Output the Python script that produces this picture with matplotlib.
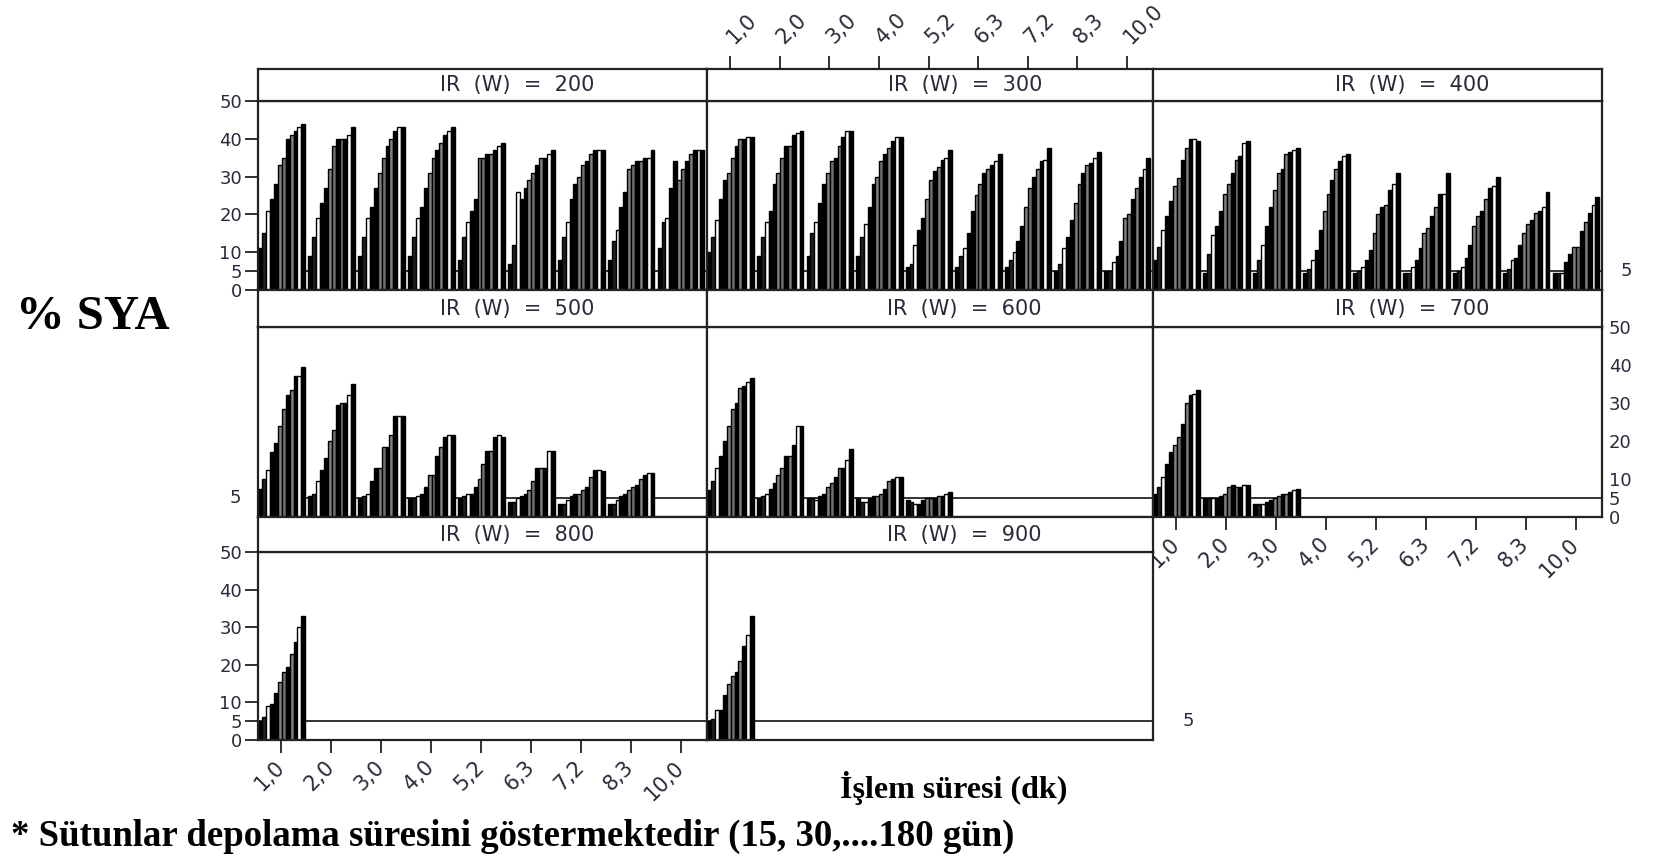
import numpy as np
import matplotlib.pyplot as plt

# treatment times (groups) and % SYA values, 12 storage times per group (15..180 days)
times = ["1,0", "2,0", "3,0", "4,0", "5,2", "6,3", "7,2", "8,3", "10,0"]

ir200 = [[11, 15, 21, 24, 28, 33, 35, 40, 41, 42, 43, 44],
         [9, 14, 19, 23, 27, 32, 38, 40, 40, 40, 41, 43],
         [9, 14, 19, 22, 27, 31, 35, 38, 40, 42, 43, 43],
         [9, 14, 19, 22, 27, 31, 35, 37, 39, 41, 42, 43],
         [8, 14, 18, 21, 24, 35, 35, 36, 36, 37, 38, 39],
         [7, 12, 26, 24, 27, 29, 31, 33, 35, 35, 36, 37],
         [8, 14, 18, 24, 28, 30, 33, 34, 36, 37, 37, 37],
         [8, 13, 16, 22, 26, 32, 33, 34, 34, 35, 35, 37],
         [11, 18, 19, 27, 34, 29, 32, 34, 36, 37, 37, 37]]
ir300 = [[10, 14, 18.5, 24, 29, 31, 35, 38, 40, 40, 40.5, 40.5],
         [9, 14, 18, 21, 28, 31, 35, 38, 38, 41, 41.5, 42],
         [9, 15, 18, 23, 28, 31, 34, 35, 38, 40.5, 42, 42],
         [9, 14, 17.5, 22, 28, 30, 34, 36, 37.5, 39.5, 40.5, 40.5],
         [6, 7, 12, 16, 19, 24, 29, 31.5, 32.5, 34.5, 35, 37],
         [6, 9, 11, 15, 21, 25, 28, 31, 32, 33, 34, 36],
         [6, 8, 10, 13, 17, 22, 27, 30, 32, 34, 34.5, 37.5],
         [5, 7, 11, 14, 18.5, 23, 28, 31, 33, 33.5, 35, 36.5],
         [5, 5, 7.5, 9, 13, 19, 20, 24, 27, 30, 32, 35]]
ir400 = [[8, 11.5, 16, 19.5, 23.5, 27.5, 29.5, 34.5, 37.5, 40, 40, 39.5],
         [4.5, 9.5, 14.5, 17, 21, 25.5, 28, 31, 34.5, 35.5, 39, 39.5],
         [4.5, 8, 12, 17, 22, 26.5, 31, 32, 36, 36.5, 37, 37.5],
         [4.5, 5.5, 8, 10.5, 16, 21, 25.5, 29, 32, 34, 35.5, 36],
         [4.5, 5, 6, 8, 10.5, 15, 20, 22, 22.5, 26.5, 28, 31],
         [4.5, 4.5, 6, 8, 11, 15, 16.5, 19.5, 22, 25.5, 25.5, 31],
         [4.5, 5, 6, 8.5, 12, 17, 19.5, 21, 24, 27, 27.5, 30],
         [4.5, 5.5, 8, 8.5, 12, 15, 17.5, 18.5, 20.5, 21, 22, 26],
         [4.5, 4.5, 4.5, 7.5, 9.5, 11.5, 11.5, 15.5, 18, 20.5, 22.5, 24.5]]
ir500 = [[7.5, 10, 12.5, 17, 19.5, 24, 28.5, 32, 33.5, 37, 37, 39.5],
         [5.5, 6, 9.5, 12.5, 15.5, 20, 23, 29.5, 30, 30, 32, 35],
         [5, 5.5, 6, 9.5, 13, 13, 18.5, 18.5, 21.5, 26.5, 26.5, 26.5],
         [5, 5, 5.5, 6, 8, 11, 11, 16, 18.5, 21, 21.5, 21.5],
         [5, 5.5, 6, 6, 8, 10, 14, 17.5, 17.5, 21, 21.5, 21],
         [4, 4, 5, 5.5, 6, 7, 9.5, 13, 13, 13, 17.5, 17.5],
         [3.5, 3.5, 4.5, 5.5, 6, 6, 7, 8, 10.5, 12.5, 12.5, 12],
         [3.5, 3.5, 4.5, 5.5, 6, 7, 8, 8.5, 10, 11, 11.5, 11.5]]
ir600 = [[7, 9.5, 13, 16, 20, 24, 28.5, 30, 34, 34.5, 35.5, 36.5],
         [5, 5.5, 6, 7.5, 9, 11, 13, 16, 16, 19, 24, 24],
         [5, 5, 4.5, 5.5, 6, 8, 9, 10.5, 13, 13, 15, 18],
         [5, 4, 4, 5, 5.5, 5.5, 6, 7.5, 9.5, 10, 10.5, 10.5],
         [4.5, 4, 3.5, 3.5, 4.5, 5, 5, 5, 5.5, 5.5, 6, 6.5]]
ir700 = [[6, 8, 10.5, 14, 17, 19, 21, 24.5, 30, 32, 32.5, 33.5],
         [5, 5, 5, 5, 5.5, 6, 8, 8.5, 8, 8, 8.5, 8.5],
         [3.5, 3.5, 3.5, 4, 4.5, 5, 5.5, 6, 6, 6.5, 7, 7.5]]
ir800 = [[5, 6, 9, 9.5, 12.5, 15.5, 18, 19.5, 23, 26, 30, 33]]
ir900 = [[5, 5.5, 8, 8, 12, 15, 17, 18, 21, 25, 28, 33]]

powers = [200, 300, 400, 500, 600, 700, 800, 900]
panel_data = [ir200, ir300, ir400, ir500, ir600, ir700, ir800, ir900]
yticks = [0, 5, 10, 20, 30, 40, 50]
ref_line = 5

# bar fill shades per storage time
fills = ['#000000', '#202020', '#ffffff', '#000000', '#000000', '#808080',
         '#707070', '#000000', '#808080', '#000000', '#ffffff', '#000000']

W, H = 1656, 856
fig = plt.figure(figsize=(W / 100, H / 100), dpi=100)

col_l = [258, 707, 1153]
col_r = [707, 1153, 1602]
head_top = [69, 290, 517]
plot_top = [101, 327, 552]
plot_bot = [290, 517, 740]
edge = '#222222'
txtc = '#2a2a3a'

def box(l, r, top, bot):
    return [l / W, 1 - bot / H, (r - l) / W, (bot - top) / H]

bw = 0.078
off = 0.01
tickpos = np.arange(9) + 0.47

for i, (pw, data) in enumerate(zip(powers, panel_data)):
    row, col = divmod(i, 3)
    ax = fig.add_axes(box(col_l[col], col_r[col], plot_top[row], plot_bot[row]))
    ax.set_xlim(0, 9)
    ax.set_ylim(0, 50)
    ax.axhline(ref_line, color='#333333', lw=1.4, zorder=1)
    for k, grp in enumerate(data):
        x = k + off + np.arange(len(grp)) * bw
        ax.bar(x, grp, width=bw, align='edge', color=fills[:len(grp)],
               edgecolor='black', lw=1.0, zorder=2)
    for s in ax.spines.values():
        s.set_linewidth(1.6)
        s.set_color(edge)
    ax.tick_params(length=0, labelleft=False, labelbottom=False)
    ax.set_xticks([])
    ax.set_yticks([])

    # y axis: left for rows 1 and 3, right for row 2
    if col == 0 and row in (0, 2):
        ax.set_yticks(yticks)
        ax.tick_params(axis='y', left=True, labelleft=True, length=9.5, width=1.3,
                       color=edge, pad=2, labelsize=13, labelcolor=txtc)
    if row == 1 and col == 2:
        ax.set_yticks(yticks)
        ax.yaxis.tick_right()
        ax.tick_params(axis='y', right=True, labelright=True, length=0, width=1.3,
                       color=edge, pad=5, labelsize=13, labelcolor=txtc)
    # reference line label on opposite side
    if row == 0 and col == 2:
        ax.text(1.055, ref_line, str(ref_line), transform=ax.get_yaxis_transform(),
                fontsize=13, color=txtc, va='center', ha='center')
    if row == 1 and col == 0:
        ax.text(-0.05, ref_line, str(ref_line), transform=ax.get_yaxis_transform(),
                fontsize=13, color=txtc, va='center', ha='center')
    if row == 2 and col == 1:
        ax.text(1.08, ref_line, str(ref_line), transform=ax.get_yaxis_transform(),
                fontsize=13, color=txtc, va='center', ha='center')

    # x axis labels at bottom for columns 1 and 3
    if (row == 2 and col == 0) or (row == 1 and col == 2):
        ax.set_xticks(tickpos)
        ax.set_xticklabels(times, rotation=45, ha='right', va='center',
                           rotation_mode='anchor')
        ax.tick_params(axis='x', bottom=True, labelbottom=True, length=9.5,
                       width=1.3, color=edge, pad=8, labelsize=15, labelcolor=txtc)

    # header strip
    hx = fig.add_axes(box(col_l[col], col_r[col], head_top[row], plot_top[row]))
    hx.set_xlim(0, 9)
    hx.set_yticks([])
    hx.set_xticks([])
    for s in hx.spines.values():
        s.set_linewidth(1.6)
        s.set_color(edge)
    hx.text(5.2, 0.5, 'IR  (W)  =  %d' % pw, transform=hx.get_xaxis_transform(),
            ha='center', va='center', fontsize=15, color=txtc)
    # x axis labels at top for column 2
    if row == 0 and col == 1:
        hx.set_xticks(tickpos)
        hx.xaxis.tick_top()
        hx.set_xticklabels(times, rotation=45, ha='left', va='center',
                           rotation_mode='anchor')
        hx.tick_params(axis='x', top=True, labeltop=True, length=9.5, width=1.3,
                       color=edge, pad=11, labelsize=15, labelcolor=txtc)

serif = 'Liberation Serif'
fig.text(16 / W, 1 - 317 / H, '% SYA', fontsize=35, family=serif, weight='bold',
         ha='left', va='center')
fig.text(840 / W, 1 - 788 / H, 'İşlem süresi (dk)', fontsize=23, family=serif,
         weight='bold', ha='left', va='center')
fig.text(11 / W, 1 - 836 / H,
         '* Sütunlar depolama süresini göstermektedir (15, 30,....180 gün)',
         fontsize=26.5, family=serif, weight='bold', ha='left', va='center')

fig.savefig('out.png', dpi=100)
